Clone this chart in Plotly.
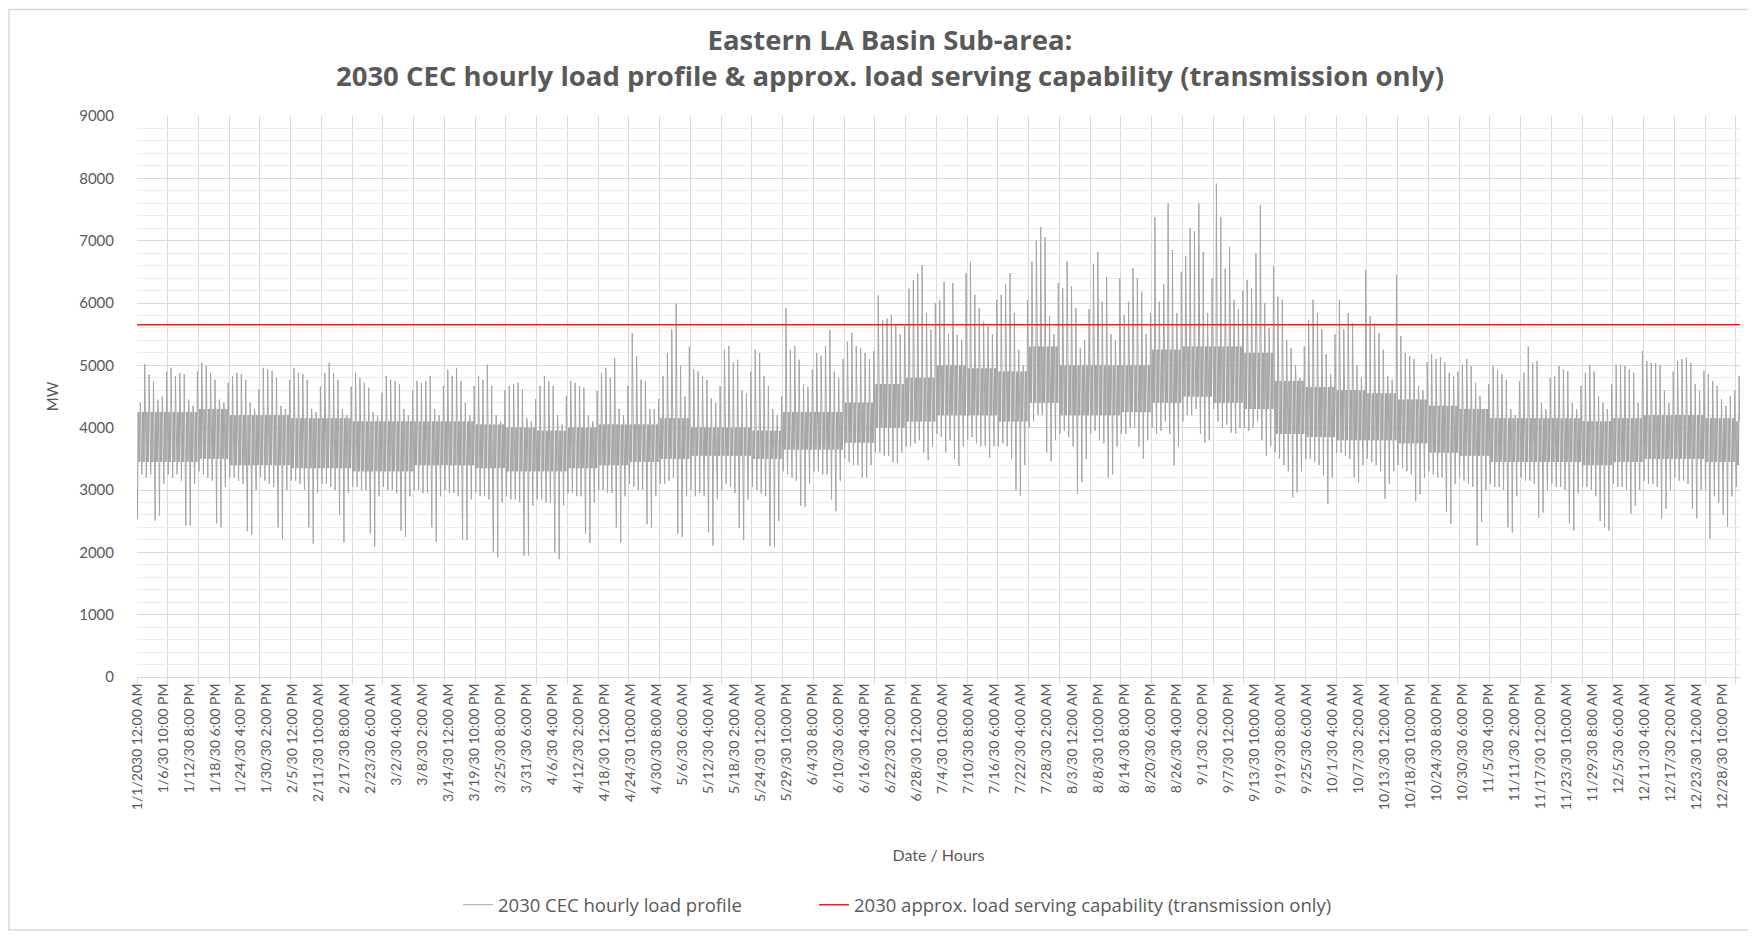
import plotly.graph_objects as go

# ---------------- data ----------------
title_line1 = "Eastern LA Basin Sub-area:"
title_line2 = "2030 CEC hourly load profile & approx. load serving capability (transmission only)"
load_name = "2030 CEC hourly load profile"
cap_name = "2030 approx. load serving capability (transmission only)"
x_axis_title = "Date / Hours"
y_axis_title = "MW"

hours_in_year = 8760
label_step_hours = 142
grid_step_hours = 168
capability_mw = [5650, 5650]

x_tick_labels = [
    "1/1/2030 12:00 AM", "1/6/30 10:00 PM", "1/12/30 8:00 PM", "1/18/30 6:00 PM", "1/24/30 4:00 PM",
    "1/30/30 2:00 PM", "2/5/30 12:00 PM", "2/11/30 10:00 AM", "2/17/30 8:00 AM", "2/23/30 6:00 AM",
    "3/2/30 4:00 AM", "3/8/30 2:00 AM", "3/14/30 12:00 AM", "3/19/30 10:00 PM", "3/25/30 8:00 PM",
    "3/31/30 6:00 PM", "4/6/30 4:00 PM", "4/12/30 2:00 PM", "4/18/30 12:00 PM", "4/24/30 10:00 AM",
    "4/30/30 8:00 AM", "5/6/30 6:00 AM", "5/12/30 4:00 AM", "5/18/30 2:00 AM", "5/24/30 12:00 AM",
    "5/29/30 10:00 PM", "6/4/30 8:00 PM", "6/10/30 6:00 PM", "6/16/30 4:00 PM", "6/22/30 2:00 PM",
    "6/28/30 12:00 PM", "7/4/30 10:00 AM", "7/10/30 8:00 AM", "7/16/30 6:00 AM", "7/22/30 4:00 AM",
    "7/28/30 2:00 AM", "8/3/30 12:00 AM", "8/8/30 10:00 PM", "8/14/30 8:00 PM", "8/20/30 6:00 PM",
    "8/26/30 4:00 PM", "9/1/30 2:00 PM", "9/7/30 12:00 PM", "9/13/30 10:00 AM", "9/19/30 8:00 AM",
    "9/25/30 6:00 AM", "10/1/30 4:00 AM", "10/7/30 2:00 AM", "10/13/30 12:00 AM", "10/18/30 10:00 PM",
    "10/24/30 8:00 PM", "10/30/30 6:00 PM", "11/5/30 4:00 PM", "11/11/30 2:00 PM", "11/17/30 12:00 PM",
    "11/23/30 10:00 AM", "11/29/30 8:00 AM", "12/5/30 6:00 AM", "12/11/30 4:00 AM", "12/17/30 2:00 AM",
    "12/23/30 12:00 AM", "12/28/30 10:00 PM",
]

# daily peak load (MW), one row per week (Tue..Mon)
daily_peak_mw = [
    4400, 5020, 4850, 4750, 4450, 4500, 4900,
    4960, 4830, 4880, 4860, 4450, 4350, 4900,
    5040, 4990, 4880, 4770, 4450, 4400, 4720,
    4830, 4880, 4860, 4770, 4400, 4300, 4620,
    4960, 4940, 4910, 4800, 4350, 4300, 4770,
    4960, 4880, 4860, 4770, 4300, 4250, 4660,
    4880, 5040, 4880, 4770, 4300, 4200, 4660,
    4880, 4800, 4720, 4640, 4250, 4200, 4560,
    4830, 4770, 4750, 4700, 4300, 4200, 4600,
    4750, 4720, 4750, 4830, 4300, 4200, 4670,
    4930, 4830, 4960, 4750, 4400, 4200, 4670,
    4830, 4770, 5010, 4670, 4200, 4100, 4600,
    4670, 4700, 4720, 4620, 4150, 4100, 4460,
    4670, 4830, 4750, 4670, 4200, 4050, 4510,
    4750, 4720, 4670, 4640, 4200, 4100, 4590,
    4880, 4960, 4800, 5120, 4300, 4200, 4670,
    5520, 5150, 4770, 4750, 4300, 4300, 4460,
    4830, 5200, 5580, 5990, 5000, 4500, 5300,
    4935, 4900, 4830, 4770, 4470, 4400, 4670,
    5250, 5310, 5040, 5090, 4600, 4550, 4900,
    5250, 5200, 4830, 4670, 4300, 4200, 4500,
    5920, 5250, 5310, 5090, 4700, 4650, 4930,
    5200, 5150, 5310, 5570, 4900, 4800, 5100,
    5380, 5520, 5310, 5280, 5200, 5100, 5230,
    6120, 5730, 5750, 5810, 5650, 5500, 5630,
    6230, 6370, 6470, 6610, 5840, 5570, 6000,
    6050, 6340, 5500, 6320, 5490, 5410, 6480,
    6665, 6130, 5920, 5700, 5630, 5500, 6050,
    6130, 6300, 6480, 5840, 5250, 5000, 6050,
    6665, 7000, 7220, 7060, 5790, 5500, 6320,
    6240, 6665, 6270, 5920, 5280, 5400, 5900,
    6630, 6820, 6020, 6420, 5500, 5400, 6400,
    5810, 6020, 6560, 6400, 6180, 5500, 5840,
    7380, 6020, 6300, 7600, 6850, 5840, 6500,
    6750, 7200, 7150, 7600, 6820, 5840, 6400,
    7916, 7380, 6550, 6900, 6050, 5900, 6200,
    6370, 6240, 6800, 7570, 6000, 5600, 6585,
    6100, 6050, 5410, 5280, 5000, 4800, 5300,
    5730, 6050, 5840, 5580, 5180, 4860, 5500,
    6050, 5580, 5840, 5680, 5000, 4800, 6530,
    5790, 5680, 5520, 5250, 4830, 4770, 6450,
    5470, 5200, 5150, 5100, 4670, 4600, 5050,
    5180, 5100, 5130, 5050, 4880, 4830, 4900,
    5010, 5100, 4990, 4720, 4510, 4300, 4700,
    4990, 4930, 4860, 4770, 4300, 4200, 4750,
    4880, 5300, 5040, 5070, 4400, 4300, 4800,
    4830, 4990, 4930, 4910, 4400, 4300, 4670,
    4880, 5010, 4900, 4510, 4400, 4300, 4700,
    5010, 5010, 4990, 4930, 4880, 4400, 5230,
    5070, 5040, 5040, 5010, 4600, 4400, 4900,
    5070, 5100, 5120, 5040, 4700, 4600, 4910,
    4860, 4750, 4670, 4460, 4350, 4510, 4600,
    4830,
]

# daily minimum load (MW), one row per week (Tue..Mon)
daily_min_mw = [
    2540, 3250, 3200, 3250, 2510, 2590, 3100,
    3250, 3200, 3250, 3150, 2430, 2430, 3100,
    3300, 3250, 3200, 3150, 2460, 2400, 3050,
    3200, 3200, 3150, 3100, 2340, 2280, 3000,
    3200, 3150, 3100, 3050, 2400, 2210, 3000,
    3150, 3150, 3100, 3000, 2400, 2140, 2950,
    3100, 3100, 3050, 3000, 2600, 2160, 2950,
    3050, 3050, 3000, 3000, 2300, 2090, 2900,
    3050, 3000, 3000, 2950, 2350, 2250, 2900,
    3000, 3000, 2950, 2950, 2400, 2170, 2900,
    3000, 2950, 2950, 2900, 2200, 2200, 2850,
    2950, 2900, 2900, 2850, 2000, 1920, 2800,
    2900, 2850, 2850, 2800, 1950, 1950, 2750,
    2850, 2850, 2800, 2800, 2000, 1890, 2750,
    2950, 2950, 2900, 2900, 2300, 2150, 2800,
    3000, 3000, 2950, 2950, 2400, 2160, 2900,
    3100, 3050, 3000, 3000, 2450, 2400, 2900,
    3100, 3100, 3150, 3200, 2300, 2250, 2900,
    3000, 2900, 2950, 2900, 2320, 2110, 2850,
    3000, 3100, 3050, 2950, 2390, 2200, 2850,
    3050, 3000, 2950, 2900, 2100, 2080, 2500,
    3300, 3250, 3200, 3150, 2750, 2730, 3100,
    3300, 3300, 3250, 3250, 2850, 2660, 3150,
    3500, 3450, 3400, 3400, 3200, 3200, 3400,
    3600, 3600, 3550, 3550, 3450, 3440, 3600,
    3700, 3700, 3750, 3800, 3600, 3480, 3700,
    3900, 3850, 3600, 3800, 3500, 3390, 3700,
    3800, 3850, 3750, 3700, 3710, 3520, 3700,
    3700, 3750, 3700, 3500, 2990, 2910, 3400,
    4000, 4100, 4200, 4200, 3600, 3460, 3800,
    3900, 3950, 3850, 3700, 2940, 3125, 3500,
    3900, 3950, 3800, 3750, 3200, 3250, 3700,
    3900, 3900, 4000, 4000, 3700, 3500, 3800,
    4000, 3900, 3950, 4100, 3900, 3400, 3700,
    4100, 4200, 4200, 4300, 3900, 3760, 3800,
    4300, 4100, 4000, 4050, 3920, 3900, 4000,
    4000, 3950, 4000, 4100, 3800, 3550, 3700,
    3600, 3500, 3400, 3300, 2880, 2960, 3300,
    3500, 3500, 3450, 3400, 3230, 2780, 3200,
    3600, 3600, 3550, 3500, 3200, 3125, 3400,
    3500, 3450, 3400, 3300, 2860, 3100, 3300,
    3400, 3350, 3300, 3250, 2820, 2930, 3200,
    3300, 3250, 3200, 3200, 2650, 2460, 3100,
    3200, 3150, 3100, 3050, 2110, 2490, 3000,
    3100, 3050, 3050, 3000, 2400, 2320, 2900,
    3200, 3150, 3150, 3100, 2560, 2640, 3000,
    3100, 3050, 3050, 3000, 2460, 2350, 2950,
    3050, 3050, 3000, 2900, 2500, 2400, 2350,
    3100, 3050, 3050, 3000, 2620, 2750, 3000,
    3150, 3100, 3100, 3050, 2545, 2700, 3000,
    3200, 3150, 3150, 3100, 2700, 2545, 3000,
    3000, 2220, 2900, 2800, 2600, 2410, 2900,
    3050,
]

# dense core band of the hourly curve, one value per week
weekly_band_high_mw = [
    4250, 4250, 4300, 4200, 4200, 4150, 4150, 4100, 4100,
    4100, 4100, 4050, 4000, 3950, 4000, 4050, 4050,
    4150, 4000, 4000, 3950,
    4250, 4250, 4400, 4700, 4800,
    5000, 4950, 4900, 5300, 5000, 5000, 5000, 5250, 5300,
    5300, 5200, 4750, 4650, 4600, 4550, 4450, 4350, 4300,
    4150, 4150, 4150, 4100, 4150, 4200, 4200, 4150, 4100,
]
weekly_band_low_mw = [
    3450, 3450, 3500, 3400, 3400, 3350, 3350, 3300, 3300,
    3400, 3400, 3350, 3300, 3300, 3350, 3400, 3450,
    3500, 3550, 3550, 3500,
    3650, 3650, 3760, 4000, 4100,
    4200, 4200, 4100, 4400, 4200, 4200, 4250, 4400, 4500,
    4400, 4300, 3900, 3850, 3800, 3800, 3750, 3600, 3550,
    3450, 3450, 3450, 3400, 3450, 3500, 3500, 3450, 3400,
]

# hour of day at which each daily reading is placed, and which reading it is
day_sample_hours = [0, 3, 6, 9, 12, 15, 18, 21]
day_sample_kind = ["lo", "min", "hi", "lo", "hi", "lo", "max", "hi"]

# ---------------- build series ----------------
load_x, load_y = [], []
for d in range(len(daily_peak_mw)):
    w = d // 7
    vals = {"lo": weekly_band_low_mw[w], "hi": weekly_band_high_mw[w],
            "min": daily_min_mw[d], "max": daily_peak_mw[d]}
    for h, k in zip(day_sample_hours, day_sample_kind):
        hr = d * 24 + h
        if hr < hours_in_year:
            load_x.append(hr)
            load_y.append(vals[k])

cap_x = [0, hours_in_year - 1]
tick_vals = [i * label_step_hours for i in range(len(x_tick_labels))]

# page has an 8px body margin, so figure coordinates = page coordinates - 8
W, H = 1748, 928
ML, MR, MT, MB = 129, 16, 108, 257
pw = W - ML - MR
ph = H - MT - MB

grey_text = "#595959"
grid = "#d9d9d9"
font_family = "Lato, 'Open Sans', sans-serif"
title_family = "'Open Sans', Lato, sans-serif"
legend_y = (MT + ph - 900) / ph

fig = go.Figure()
fig.add_trace(go.Scatter(
    x=load_x, y=load_y, mode="lines", name=load_name, legend="legend",
    line=dict(color="#a5a5a5", width=1), hoverinfo="skip",
))
fig.add_trace(go.Scatter(
    x=cap_x, y=capability_mw, mode="lines", name=cap_name, legend="legend2",
    line=dict(color="#ff1a1a", width=1.6), hoverinfo="skip",
))

fig.update_layout(
    width=W, height=H,
    margin=dict(l=ML, r=MR, t=MT, b=MB),
    paper_bgcolor="white", plot_bgcolor="white",
    font=dict(family=font_family, color=grey_text),
    title=dict(
        text=title_line1 + "<br>" + title_line2,
        x=882 / W, xanchor="center", xref="container",
        y=1 - 42 / H, yanchor="middle", yref="container",
        font=dict(size=27.5, color=grey_text, family=title_family, weight="bold"),
    ),
    showlegend=True,
    legend=dict(
        orientation="h", x=(450 - ML) / pw, xanchor="left",
        y=legend_y, yanchor="middle",
        font=dict(size=18.5, color=grey_text, family=title_family),
        bgcolor="rgba(0,0,0,0)",
    ),
    legend2=dict(
        orientation="h", x=(806 - ML) / pw, xanchor="left",
        y=legend_y, yanchor="middle",
        font=dict(size=18.5, color=grey_text, family=title_family),
        bgcolor="rgba(0,0,0,0)",
    ),
    xaxis=dict(
        range=[0, hours_in_year - 1],
        tickmode="array", tickvals=tick_vals, ticktext=x_tick_labels,
        tickangle=-90, tickfont=dict(size=14, color=grey_text),
        showgrid=False, ticks="", zeroline=False,
        showline=True, linecolor=grid, linewidth=1,
        minor=dict(tickmode="linear", tick0=0, dtick=grid_step_hours,
                   showgrid=True, gridcolor=grid, gridwidth=1,
                   ticks="outside", ticklen=6, tickcolor=grid),
        title=dict(text=x_axis_title, font=dict(size=16, color=grey_text), standoff=40),
        automargin=False,
    ),
    yaxis=dict(
        range=[0, 9000], tickmode="linear", tick0=0, dtick=1000,
        showgrid=True, gridcolor=grid, gridwidth=1,
        zeroline=False, showline=False, ticks="",
        tickfont=dict(size=15, color=grey_text), ticklabelstandoff=22,
        minor=dict(tickmode="linear", tick0=0, dtick=200, showgrid=True,
                   gridcolor="#ececec", gridwidth=1),
        title=dict(text=y_axis_title, font=dict(size=15, color=grey_text), standoff=16),
        automargin=False,
    ),
)

# chart-area border (light grey frame round the whole chart)
fig.add_shape(
    type="rect", xref="paper", yref="paper", layer="below",
    x0=(1 - ML) / pw, x1=(1744 - ML) / pw,
    y0=(MT + ph - 925) / ph, y1=(MT + ph - 1) / ph,
    line=dict(color="#d9d9d9", width=1.5), fillcolor="rgba(0,0,0,0)",
)

fig.write_html("out.html")
